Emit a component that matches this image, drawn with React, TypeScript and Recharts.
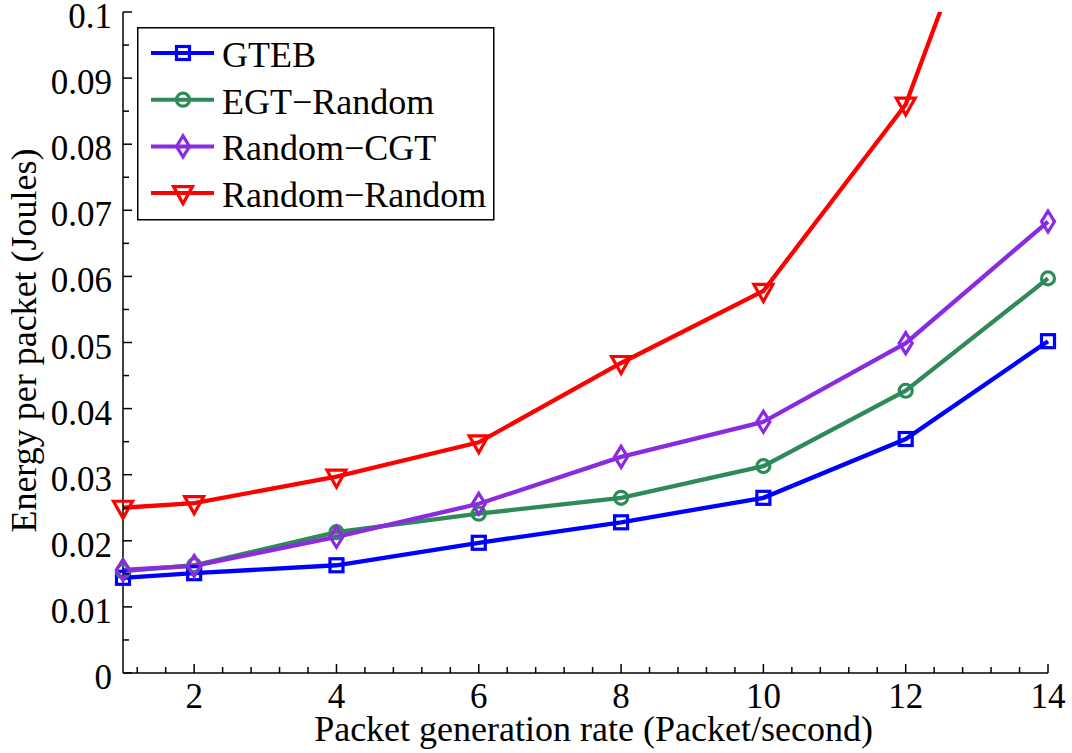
import React from "react";
import { LineChart, Line, XAxis, YAxis, Legend, Label } from "recharts";

// packet generation rate (packet/second)
const rates = [1, 2, 4, 6, 8, 10, 12, 14];

// energy per packet (J)
const gteb = [0.0144, 0.0151, 0.0163, 0.0197, 0.0228, 0.0265, 0.0354, 0.0502];
const egtRandom = [0.0154, 0.0163, 0.0213, 0.0241, 0.0265, 0.0313, 0.0427, 0.0597];
const randomCgt = [0.0156, 0.0162, 0.0206, 0.0256, 0.0327, 0.038, 0.0499, 0.0683];
const randomRandom = [0.025, 0.0257, 0.0297, 0.0349, 0.0469, 0.0578, 0.086, 0.144];

const Y_MAX = 0.1;
const xMajor = [2, 4, 6, 8, 10, 12, 14];
const yMajor = [0, 0.01, 0.02, 0.03, 0.04, 0.05, 0.06, 0.07, 0.08, 0.09, 0.1];
const yLabels = ["0", "0.01", "0.02", "0.03", "0.04", "0.05", "0.06", "0.07", "0.08", "0.09", "0.1"];

// minor ticks every 0.4 on x and 0.005 on y, majors included
const xTicks = Array.from({ length: 33 }, (_, k) => +((k + 3) * 0.4).toFixed(1));
const yTicks = Array.from({ length: 21 }, (_, k) => +(k * 0.005).toFixed(3));

const series = [
  { key: "gteb", name: "GTEB", color: "#0000ff", shape: "square", values: gteb },
  { key: "egt", name: "EGT\u2212Random", color: "#2e8b57", shape: "circle", values: egtRandom },
  { key: "cgt", name: "Random\u2212CGT", color: "#8a2be2", shape: "diamond", values: randomCgt },
  { key: "rr", name: "Random\u2212Random", color: "#ff0000", shape: "triangle", values: randomRandom },
];

// line values plus a marker copy; markers sit on an unclipped axis so the
// ones on the frame edges are drawn whole, points above the frame are dropped
const rows = rates.map((rate, i) => {
  const row: Record<string, number | null> = { rate };
  series.forEach((s) => {
    row[s.key] = s.values[i];
    row[s.key + "M"] = s.values[i] <= Y_MAX ? s.values[i] : null;
  });
  return row;
});

const FONT = "'Liberation Serif', 'Times New Roman', serif";
const TICK_FS = 35;
const FS = 36;

const isMajorX = (v: number) => xMajor.some((m) => Math.abs(m - v) < 1e-6);
const isMajorY = (v: number) => yMajor.some((m) => Math.abs(m - v) < 1e-6);

function Marker({ cx, cy, shape, color }: any) {
  if (cx == null || cy == null) return null;
  const common = { fill: "none", stroke: color, strokeWidth: 3.2 };
  if (shape === "square") return <rect x={cx - 6.5} y={cy - 6.5} width={13} height={13} {...common} />;
  if (shape === "circle") return <circle cx={cx} cy={cy} r={6.5} {...common} />;
  if (shape === "diamond")
    return <path d={`M${cx},${cy - 10.5}L${cx + 6.5},${cy}L${cx},${cy + 10.5}L${cx - 6.5},${cy}Z`} {...common} />;
  return <path d={`M${cx - 9.5},${cy - 6.5}L${cx + 9.5},${cy - 6.5}L${cx},${cy + 10.5}Z`} {...common} />;
}

function BottomTick({ x, y, payload }: any) {
  const major = isMajorX(payload.value);
  return (
    <g>
      <line x1={x} x2={x} y1={y} y2={y - (major ? 9 : 6)} stroke="#000" strokeWidth={1.5} />
      {major && (
        <text x={x} y={y + 35} textAnchor="middle" fontFamily={FONT} fontSize={TICK_FS} fill="#000">
          {payload.value}
        </text>
      )}
    </g>
  );
}

function TopTick({ x, y, payload }: any) {
  const major = isMajorX(payload.value);
  return <line x1={x} x2={x} y1={y} y2={y + (major ? 9 : 6)} stroke="#000" strokeWidth={1.5} />;
}

function LeftTick({ x, y, payload }: any) {
  const major = isMajorY(payload.value);
  const idx = yMajor.findIndex((m) => Math.abs(m - payload.value) < 1e-6);
  return (
    <g>
      <line x1={x} x2={x + (major ? 9 : 6)} y1={y} y2={y} stroke="#000" strokeWidth={1.5} />
      {major && (
        <text x={x - 11} y={y + 16} textAnchor="end" fontFamily={FONT} fontSize={TICK_FS} fill="#000">
          {yLabels[idx]}
        </text>
      )}
    </g>
  );
}

function RightTick({ x, y, payload }: any) {
  const major = isMajorY(payload.value);
  return <line x1={x} x2={x - (major ? 9 : 6)} y1={y} y2={y} stroke="#000" strokeWidth={1.5} />;
}

function LegendBox() {
  return (
    <svg width={358} height={194} style={{ display: "block" }}>
      <rect x={0.75} y={0.75} width={356} height={192} fill="#fff" stroke="#000" strokeWidth={1.5} />
      {series.map((s, i) => {
        const cy = 26 + i * 46.7;
        return (
          <g key={s.key}>
            <line x1={14} x2={77} y1={cy} y2={cy} stroke={s.color} strokeWidth={4} />
            <Marker cx={46} cy={cy} shape={s.shape} color={s.color} />
            <text x={85} y={cy + 14} fontFamily={FONT} fontSize={FS} fill="#000">
              {s.name}
            </text>
          </g>
        );
      })}
    </svg>
  );
}

const axisLine = { stroke: "#000", strokeWidth: 1.5 };

export default function App() {
  return (
    <div style={{ position: "absolute", left: 0, top: 0, background: "#fff" }}>
      <LineChart width={1072} height={753} data={rows} margin={{ top: 12, right: 24, bottom: 0, left: 0 }}>
        <XAxis
          xAxisId="b"
          dataKey="rate"
          type="number"
          domain={[1, 14]}
          ticks={xTicks}
          interval={0}
          tickSize={0}
          tickMargin={0}
          tickLine={false}
          tick={<BottomTick />}
          axisLine={axisLine}
          height={80}
        >
          <Label
            content={({ viewBox }: any) => (
              <text
                x={viewBox.x + viewBox.width / 2 + 8}
                y={viewBox.y + 68}
                textAnchor="middle"
                fontFamily={FONT}
                fontSize={FS}
                fill="#000"
              >
                Packet generation rate (Packet/second)
              </text>
            )}
          />
        </XAxis>
        <XAxis
          xAxisId="t"
          orientation="top"
          type="number"
          domain={[1, 14]}
          ticks={xTicks}
          interval={0}
          tickSize={0}
          tickMargin={0}
          tickLine={false}
          tick={<TopTick />}
          axisLine={axisLine}
          height={0}
        />
        <YAxis
          yAxisId="l"
          type="number"
          domain={[0, Y_MAX]}
          allowDataOverflow
          ticks={yTicks}
          interval={0}
          tickSize={0}
          tickMargin={0}
          tickLine={false}
          tick={<LeftTick />}
          axisLine={axisLine}
          width={123}
        >
          <Label
            content={({ viewBox }: any) => {
              const cx = viewBox.x + 36;
              const cy = viewBox.y + viewBox.height / 2 - 2;
              return (
                <text
                  x={cx}
                  y={cy}
                  transform={`rotate(-90 ${cx} ${cy})`}
                  textAnchor="middle"
                  fontFamily={FONT}
                  fontSize={FS}
                  fill="#000"
                >
                  Energy per packet (Joules)
                </text>
              );
            }}
          />
        </YAxis>
        <YAxis
          yAxisId="r"
          orientation="right"
          type="number"
          domain={[0, Y_MAX]}
          allowDataOverflow
          ticks={yTicks}
          interval={0}
          tickSize={0}
          tickMargin={0}
          tickLine={false}
          tick={<RightTick />}
          axisLine={axisLine}
          width={0}
        />
        <YAxis yAxisId="m" type="number" domain={[0, Y_MAX]} ticks={yTicks} hide />
        {series.map((s) => [
          <Line
            key={s.key}
            xAxisId="b"
            yAxisId="l"
            dataKey={s.key}
            name={s.name}
            stroke={s.color}
            strokeWidth={4.3}
            isAnimationActive={false}
            dot={false}
            activeDot={false}
          />,
          <Line
            key={s.key + "M"}
            xAxisId="b"
            yAxisId="m"
            dataKey={s.key + "M"}
            stroke="none"
            legendType="none"
            isAnimationActive={false}
            dot={(p: any) => <Marker key={`${s.key}-${p.index}`} cx={p.cx} cy={p.cy} shape={s.shape} color={s.color} />}
            activeDot={false}
          />,
        ])}
        <Legend
          layout="vertical"
          align="center"
          verticalAlign="middle"
          content={() => <LegendBox />}
          wrapperStyle={{ position: "absolute", left: 137, top: 27, width: 358, height: 194 }}
        />
      </LineChart>
    </div>
  );
}
